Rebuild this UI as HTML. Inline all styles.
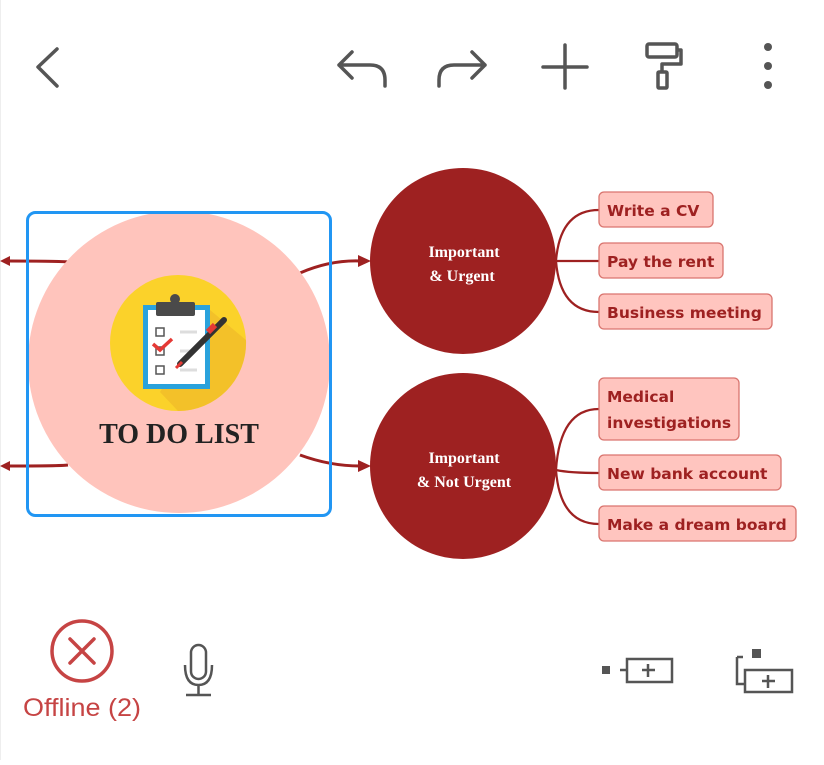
<!DOCTYPE html>
<html><head><style>
body{margin:0;width:824px;height:760px;background:#fff;overflow:hidden;font-family:"Liberation Sans",sans-serif}
</style></head><body>
<svg width="824" height="760" viewBox="0 0 824 760" xmlns="http://www.w3.org/2000/svg">
<line x1="0.5" y1="0" x2="0.5" y2="760" stroke="#eee"/>
<g fill="none" stroke="#555" stroke-width="3.5" stroke-linecap="round" stroke-linejoin="round">
<polyline points="57,49 38,67 57,86"/>
<path d="M352,52 L339,65 L352,78 M339,65 H370 Q385,65 385,80 V86"/>
<path d="M472,52 L485,65 L472,78 M485,65 H454 Q439,65 439,80 V86"/>
<path d="M565,45 V88 M543,67 H587"/>
</g>
<g fill="none" stroke="#555" stroke-width="3.5" stroke-linejoin="round">
<rect x="647" y="44" width="30" height="13" rx="2"/>
<path d="M677,50 H681 V64 H662 V72"/>
<rect x="658" y="72" width="9" height="16" rx="1"/>
</g>
<g fill="#555"><circle cx="768" cy="47" r="4"/><circle cx="768" cy="66" r="4"/><circle cx="768" cy="85" r="4"/></g>
<g fill="none" stroke="#9e2121" stroke-width="3">
<path d="M68,262 Q60,261 8,261"/><path d="M68,465 Q60,466 8,466"/>
<path d="M300,273 Q330,260 360,261"/><path d="M300,455 Q330,466 360,466"/>
</g>
<g fill="#9e2121">
<polygon points="0,261 10,256 10,266"/><polygon points="0,466 10,461 10,471"/>
<polygon points="371,261 358,255 358,267"/><polygon points="371,466 358,460 358,472"/>
</g>
<circle cx="179" cy="362" r="151" fill="#ffc4bc"/>
<rect x="27.5" y="212.5" width="303" height="303" rx="8" fill="none" stroke="#2196f3" stroke-width="3"/>
<circle cx="178" cy="343" r="68" fill="#fbd22a"/>
<path d="M210,310 L246,340 A68,68 0 0 1 178,411 L160,392 Z" fill="#f0b92a" opacity="0.7"/>
<rect x="143" y="305" width="67" height="84" fill="#2aa2dc"/>
<rect x="148" y="310" width="57" height="74" fill="#fff"/>
<rect x="156" y="302" width="39" height="14" rx="2" fill="#4a4a4a"/>
<circle cx="175" cy="299" r="5" fill="#4a4a4a"/>
<g fill="none" stroke="#555" stroke-width="1.5"><rect x="156" y="328" width="8" height="8"/><rect x="156" y="347" width="8" height="8"/><rect x="156" y="366" width="8" height="8"/></g>
<g stroke="#ddd" stroke-width="3"><line x1="180" y1="332" x2="197" y2="332"/><line x1="180" y1="351" x2="190" y2="351"/><line x1="180" y1="370" x2="197" y2="370"/></g>
<polyline points="153,344 160,350 172,339" fill="none" stroke="#e53935" stroke-width="3.5"/>
<line x1="180" y1="364" x2="224" y2="320" stroke="#333" stroke-width="6" stroke-linecap="round"/>
<line x1="176" y1="368" x2="182" y2="362" stroke="#e53935" stroke-width="3"/>
<line x1="208" y1="332" x2="215" y2="325" stroke="#e53935" stroke-width="6"/>
<text x="179" y="443" text-anchor="middle" font-family="Liberation Serif,serif" font-weight="bold" font-size="28" fill="#222">TO DO LIST</text>
<circle cx="463" cy="261" r="93" fill="#9e2121"/>
<circle cx="463" cy="466" r="93" fill="#9e2121"/>
<g font-family="Liberation Serif,serif" font-weight="bold" font-size="16" fill="#fff" text-anchor="middle">
<text x="464" y="257">Important</text><text x="462" y="281">&amp; Urgent</text>
<text x="464" y="463">Important</text><text x="464" y="487">&amp; Not Urgent</text>
</g>
<g fill="none" stroke="#9e2121" stroke-width="2.2">
<path d="M556,261 Q560,210 599,210"/><path d="M556,261 H599"/><path d="M556,261 Q560,312 599,312"/>
<path d="M556,470 Q560,409 599,409"/><path d="M556,470 Q570,473 599,473"/><path d="M556,470 Q560,524 599,524"/>
</g>
<g fill="#ffc5bf" stroke="#d9756f" stroke-width="1.3">
<rect x="599" y="192" width="114" height="35" rx="5"/>
<rect x="599" y="243" width="124" height="35" rx="5"/>
<rect x="599" y="294" width="173" height="35" rx="5"/>
<rect x="599" y="378" width="140" height="62" rx="5"/>
<rect x="599" y="455" width="182" height="35" rx="5"/>
<rect x="599" y="506" width="197" height="35" rx="5"/>
</g>
<g font-family="DejaVu Sans,sans-serif" font-weight="bold" font-size="15.5" fill="#9e2121">
<text x="607" y="216">Write a CV</text>
<text x="607" y="267">Pay the rent</text>
<text x="607" y="318">Business meeting</text>
<text x="607" y="402">Medical</text>
<text x="607" y="428">investigations</text>
<text x="607" y="479">New bank account</text>
<text x="607" y="530">Make a dream board</text>
</g>
<circle cx="82" cy="651" r="30" fill="none" stroke="#c64444" stroke-width="3.5"/>
<path d="M70,639 L94,663 M94,639 L70,663" stroke="#c64444" stroke-width="3.5" stroke-linecap="round"/>
<text x="82" y="716" text-anchor="middle" font-size="25" fill="#c64444" textLength="118" lengthAdjust="spacingAndGlyphs">Offline (2)</text>
<g fill="none" stroke="#555" stroke-width="2.5">
<rect x="191" y="645" width="15" height="34" rx="7.5"/>
<path d="M185,665 Q185,685 198.5,685 Q212,685 212,665 M198.5,685 V694 M186,695 H211"/>
<rect x="627" y="659" width="45" height="23"/>
<path d="M620,670 H627 M648,664 V677 M642,670 H655"/>
<path d="M737,657 H743 M737,657 V684 H745"/>
<rect x="745" y="670" width="47" height="22"/>
<path d="M768,675 V688 M762,681 H775"/>
</g>
<rect x="602" y="666" width="8" height="8" fill="#555"/>
<rect x="752" y="649" width="9" height="9" fill="#555"/>
</svg>
</body></html>
